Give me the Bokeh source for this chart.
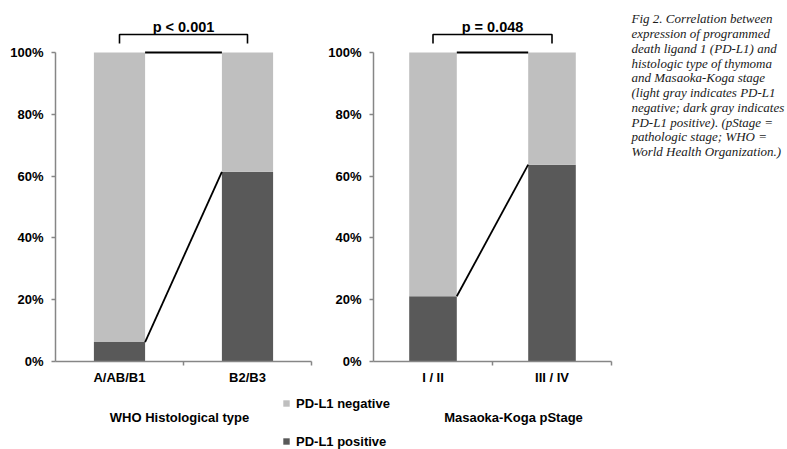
from bokeh.plotting import figure
from bokeh.models import Range1d, FixedTicker, ColumnDataSource, Legend, LegendItem
from bokeh.layouts import row, column
from bokeh.embed import file_html
from bokeh.resources import INLINE
from bokeh.core.properties import value

# ---------------- data ----------------
who_types = ["A/AB/B1", "B2/B3"]
who_positive = [6.3, 61.4]          # % PD-L1 positive
who_p_text = "p < 0.001"
who_title = "WHO Histological type"

stages = ["I / II", "III / IV"]
stage_positive = [21.1, 63.7]       # % PD-L1 positive
stage_p_text = "p = 0.048"
stage_title = "Masaoka-Koga pStage"

y_ticks = [0, 20, 40, 60, 80, 100]
y_tick_labels = ["0%", "20%", "40%", "60%", "80%", "100%"]
legend_labels = ["PD-L1 negative", "PD-L1 positive"]

caption_lines = [
    "Fig 2.  Correlation between",
    "expression of programmed",
    "death ligand 1 (PD-L1) and",
    "histologic type of thymoma",
    "and Masaoka-Koga stage",
    "(light gray indicates PD-L1",
    "negative; dark gray indicates",
    "PD-L1 positive). (pStage =",
    "pathologic stage; WHO =",
    "World Health Organization.)",
]

# ---------------- style / layout ----------------
LIGHT = "#BFBFBF"
DARK = "#595959"
AXIS = "#868686"
FONT_NAME = "Liberation Sans"
FONT = value(FONT_NAME)
SERIF = value("Liberation Serif")

W_TOTAL, H_TOTAL = 787, 449
H1 = 394            # height of the chart row
FRAME_H = 361       # plot frame height (frame starts at top of canvas)
PX_PER_100 = 309.0  # pixels for 100 %
W1, W2 = 321, 304
CAP_W = W_TOTAL - W1 - W2
H2 = H_TOTAL - H1


def val(py):
    """value on the % axis for a pixel row measured from the top of the chart canvas"""
    return 100 * (FRAME_H - py) / PX_PER_100


Y_END = val(0)
BR_LOW = val(43)
BR_TOP = val(34)
P_Y = val(26)
BAR_W = 0.4


def bar_chart(cats, positive, p_text, width, border_left, border_right):
    n = len(cats)
    negative = [100 - v for v in positive]
    xs = [i + 0.5 for i in range(n)]
    p = figure(width=width, height=H1, x_range=Range1d(0, n), y_range=Range1d(0, Y_END),
               output_backend="svg", toolbar_location=None,
               min_border_left=border_left, min_border_right=border_right,
               min_border_top=0, min_border_bottom=H1 - FRAME_H)
    src = ColumnDataSource(dict(x=xs, positive=positive, negative=negative))
    p.vbar_stack(["positive", "negative"], x="x", width=BAR_W, source=src,
                 fill_color=[DARK, LIGHT], line_color=None)
    x0 = xs[0] + BAR_W / 2
    x1 = xs[1] - BAR_W / 2
    p.line([x0, x1], [100, 100], line_color="black", line_width=2)
    p.line([x0, x1], [positive[0], positive[1]], line_color="black", line_width=1.8)
    p.line([xs[0], xs[0], xs[1], xs[1]], [BR_LOW, BR_TOP, BR_TOP, BR_LOW],
           line_color="black", line_width=1.6)
    p.text(x=[n / 2], y=[P_Y], text=[p_text], text_align="center", text_baseline="alphabetic",
           text_font=FONT, text_font_style="bold", text_font_size="14.5px", text_color="black")

    p.xgrid.visible = False
    p.ygrid.visible = False
    p.outline_line_color = None

    xa = p.xaxis[0]
    xa.ticker = FixedTicker(ticks=xs, minor_ticks=list(range(1, n + 1)))
    xa.major_label_overrides = {x: c for x, c in zip(xs, cats)}
    xa.major_tick_line_color = None
    xa.major_tick_out = 0
    xa.major_tick_in = 0
    xa.minor_tick_line_color = AXIS
    xa.minor_tick_line_width = 1.5
    xa.minor_tick_out = 4
    xa.minor_tick_in = 0
    xa.axis_line_color = AXIS
    xa.axis_line_width = 1.5
    xa.major_label_standoff = 4
    xa.major_label_text_font = FONT_NAME
    xa.major_label_text_font_style = "bold"
    xa.major_label_text_font_size = "13px"
    xa.major_label_text_color = "black"

    ya = p.yaxis[0]
    ya.ticker = FixedTicker(ticks=y_ticks)
    ya.major_label_overrides = {t: l for t, l in zip(y_ticks, y_tick_labels)}
    ya.bounds = (0, 100)
    ya.axis_line_color = AXIS
    ya.axis_line_width = 1.5
    ya.major_tick_line_color = AXIS
    ya.major_tick_line_width = 1.5
    ya.major_tick_out = 4
    ya.major_tick_in = 0
    ya.minor_tick_line_color = None
    ya.major_label_standoff = 8
    ya.major_label_text_font = FONT_NAME
    ya.major_label_text_font_style = "bold"
    ya.major_label_text_font_size = "13px"
    ya.major_label_text_color = "black"
    return p


p1 = bar_chart(who_types, who_positive, who_p_text, W1, 55, 10)
p2 = bar_chart(stages, stage_positive, stage_p_text, W2, 52, 14)

# caption
cap = figure(width=CAP_W, height=H1, x_range=Range1d(0, CAP_W), y_range=Range1d(0, H1),
             output_backend="svg", toolbar_location=None, x_axis_type=None, y_axis_type=None,
             min_border=0)
cap.grid.visible = False
cap.outline_line_color = None
cap.text(x=[6] * len(caption_lines),
         y=[H1 - 20 - 16.1 * i for i in range(len(caption_lines))],
         text=caption_lines, text_align="left", text_baseline="middle",
         text_font=SERIF, text_font_style="italic", text_font_size="13px", text_color="#1a1a1a")

# bottom strip: axis titles + legend
bot = figure(width=W_TOTAL, height=H2, x_range=Range1d(0, W_TOTAL), y_range=Range1d(0, H2),
             output_backend="svg", toolbar_location=None, x_axis_type=None, y_axis_type=None,
             min_border=0)
bot.grid.visible = False
bot.outline_line_color = None
bot.text(x=[179, 513], y=[H2 - 23, H2 - 23], text=[who_title, stage_title],
         text_align="center", text_baseline="middle", text_font=FONT, text_font_style="bold",
         text_font_size="13px", text_color="black")
# zero-size swatch renderers that only feed the legend
r_neg = bot.vbar(x=[0], top=[0], bottom=[0], width=0, fill_color=LIGHT, line_color=None)
r_pos = bot.vbar(x=[0], top=[0], bottom=[0], width=0, fill_color=DARK, line_color=None)
legend = Legend(items=[LegendItem(label=legend_labels[0], renderers=[r_neg]),
                       LegendItem(label=legend_labels[1], renderers=[r_pos])],
                location=(282, 0), orientation="vertical",
                glyph_width=8, glyph_height=8, label_height=16, label_width=10,
                spacing=22, padding=0, margin=0, label_standoff=6,
                border_line_color=None, background_fill_alpha=0,
                label_text_font=FONT_NAME, label_text_font_style="bold",
                label_text_font_size="13px", label_text_color="black")
bot.add_layout(legend, "center")

layout = column(row(p1, p2, cap), bot)
open("out.html", "w").write(file_html(layout, INLINE))
